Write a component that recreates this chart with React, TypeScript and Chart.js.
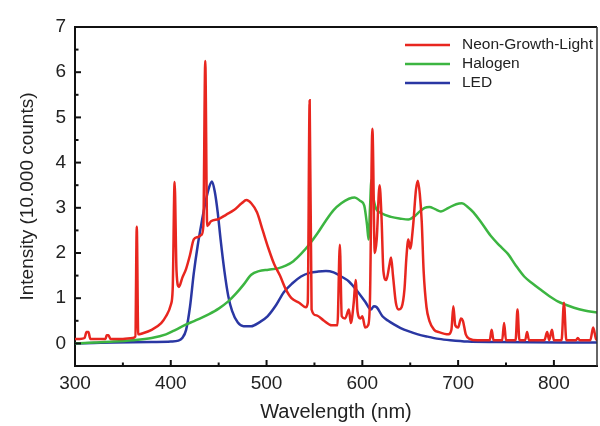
import React, { useEffect, useRef } from "react";
import { Chart, registerables } from "chart.js";

Chart.register(...registerables);

const seriesNames = ["Neon-Growth-Light", "Halogen", "LED"];
const seriesColors = ["#e8261f", "#3cb541", "#2a37a3"];

const xTickValues = [300, 400, 500, 600, 700, 800];
const xMinorValues = [350, 450, 550, 650, 750, 850];
const yTickValues = [0, 1, 2, 3, 4, 5, 6, 7];
const yMinorValues = [-0.5, 0.5, 1.5, 2.5, 3.5, 4.5, 5.5, 6.5];

const neonWl = [300, 305, 310, 312, 314, 316, 325, 332, 333, 335, 337, 350, 360, 363, 364.5, 366, 370, 380, 390, 395, 400, 402, 404, 406, 408.5, 412, 416, 420, 424, 428, 432, 434, 436, 438, 442, 450, 458, 466, 474, 479, 484, 490, 496, 502, 508, 514, 520, 526, 534, 541, 543, 545, 547, 552, 560, 568, 574, 576.5, 578.5, 582, 586, 588, 591, 593, 595, 598, 600, 603, 606, 608, 610.5, 613, 615, 618, 620, 622, 625, 628, 630, 632, 635, 638, 641, 644, 646, 648, 650, 653, 656, 658, 660, 662, 664, 667, 670, 675, 680, 690, 693, 695, 697, 700, 703, 705, 708, 712, 720, 733, 735, 737, 746, 748, 750, 760, 762, 764, 770, 772, 774, 790, 793, 795, 798, 800, 808, 810.5, 813, 823, 825, 827, 838, 841, 844, 846];
const neonVal = [0.1, 0.1, 0.12, 0.25, 0.25, 0.1, 0.1, 0.1, 0.18, 0.18, 0.1, 0.1, 0.12, 0.15, 2.58, 0.2, 0.22, 0.3, 0.45, 0.6, 0.85, 1.2, 3.57, 1.6, 1.25, 1.45, 1.65, 1.95, 2.3, 2.35, 2.4, 2.6, 6.25, 2.6, 2.7, 2.75, 2.85, 2.95, 3.1, 3.17, 3.1, 2.9, 2.5, 2.1, 1.75, 1.5, 1.2, 1.0, 0.9, 0.8, 0.9, 5.38, 0.75, 0.62, 0.5, 0.4, 0.4, 2.18, 0.6, 0.55, 0.75, 0.45, 0.9, 1.4, 0.7, 0.55, 0.6, 0.35, 0.4, 1.0, 4.75, 2.0, 2.3, 3.5, 2.8, 1.6, 1.4, 1.7, 1.9, 1.5, 0.9, 0.75, 0.8, 1.2, 1.9, 2.3, 2.1, 2.6, 3.4, 3.6, 3.3, 2.7, 1.6, 0.8, 0.5, 0.3, 0.25, 0.2, 0.3, 0.82, 0.4, 0.35, 0.55, 0.5, 0.2, 0.1, 0.07, 0.07, 0.3, 0.07, 0.07, 0.45, 0.07, 0.07, 0.75, 0.07, 0.07, 0.25, 0.07, 0.07, 0.25, 0.07, 0.3, 0.07, 0.07, 0.9, 0.07, 0.07, 0.12, 0.07, 0.07, 0.35, 0.1, 0.07];

const halogenWl = [300, 320, 340, 360, 380, 395, 405, 414, 425, 440, 450, 460, 468, 476, 484, 492, 502, 512, 520, 528, 536, 545, 553, 562, 570, 578, 586, 592, 598, 602, 605, 606.5, 608, 609.5, 611, 614, 620, 630, 640, 648, 655, 660, 665, 670, 676, 682, 690, 698, 704, 710, 716, 724, 734, 744, 752, 760, 769, 778, 786, 795, 804, 813, 821, 832, 846];
const halogenVal = [0.0, 0.02, 0.04, 0.07, 0.12, 0.2, 0.3, 0.4, 0.5, 0.65, 0.77, 0.93, 1.1, 1.3, 1.52, 1.6, 1.63, 1.66, 1.72, 1.82, 1.98, 2.2, 2.43, 2.72, 2.95, 3.1, 3.2, 3.23, 3.15, 3.05, 2.6, 2.3, 3.0, 3.62, 3.3, 3.0, 2.88, 2.8, 2.76, 2.74, 2.82, 2.92, 3.0, 3.02, 2.97, 2.92, 3.0, 3.08, 3.1, 3.02, 2.9, 2.68, 2.38, 2.15, 1.98, 1.73, 1.48, 1.32, 1.19, 1.05, 0.93, 0.85, 0.79, 0.73, 0.68];

const ledWl = [300, 320, 340, 380, 400, 408, 412, 416, 420, 424, 428, 432, 436, 440, 443, 446, 449, 452, 456, 460, 464, 470, 476, 484, 492, 501, 510, 518, 527, 536, 545, 554, 562, 570, 578, 586, 595, 603, 609, 612, 615, 621, 627, 633, 640, 648, 658, 668, 680, 692, 710, 740, 846];
const ledVal = [0.0, 0.01, 0.02, 0.03, 0.04, 0.06, 0.12, 0.3, 0.8, 1.55, 2.15, 2.65, 3.1, 3.45, 3.58, 3.35, 2.9, 2.3, 1.6, 1.05, 0.72, 0.46, 0.38, 0.38, 0.46, 0.6, 0.85, 1.13, 1.33, 1.48, 1.56, 1.59, 1.6, 1.57, 1.48, 1.37, 1.15, 0.92, 0.75, 0.82, 0.8, 0.6, 0.5, 0.42, 0.34, 0.27, 0.2, 0.15, 0.1, 0.07, 0.04, 0.03, 0.02];

const xTitle = "Wavelength (nm)";
const yTitle = "Intensity (10.000 counts)";

const FONT = "'Liberation Sans', Arial, sans-serif";

function toPoints(xs: number[], ys: number[]) {
  return xs.map((x, i) => ({ x, y: ys[i] }));
}

const framePlugin = {
  id: "frameTicks",
  afterDraw(chart: any) {
    const { ctx, chartArea } = chart;
    const xs = chart.scales.x;
    const ys = chart.scales.y;
    ctx.save();
    ctx.strokeStyle = "#111";
    ctx.lineWidth = 2;
    ctx.beginPath();
    ctx.moveTo(chartArea.left, chartArea.top);
    ctx.lineTo(chartArea.right, chartArea.top);
    ctx.stroke();
    ctx.lineWidth = 1.5;
    ctx.strokeStyle = "#333";
    ctx.beginPath();
    ctx.moveTo(chartArea.right, chartArea.top);
    ctx.lineTo(chartArea.right, chartArea.bottom);
    ctx.stroke();
    ctx.strokeStyle = "#111";
    ctx.lineWidth = 2;
    const drawX = (vals: number[], len: number) => {
      vals.forEach((v) => {
        const px = xs.getPixelForValue(v);
        if (px <= chartArea.left + 1 || px >= chartArea.right - 1) return;
        ctx.beginPath();
        ctx.moveTo(px, chartArea.bottom);
        ctx.lineTo(px, chartArea.bottom - len);
        ctx.stroke();
      });
    };
    const drawY = (vals: number[], len: number) => {
      vals.forEach((v) => {
        const py = ys.getPixelForValue(v);
        if (py <= chartArea.top + 1 || py >= chartArea.bottom - 1) return;
        ctx.beginPath();
        ctx.moveTo(chartArea.left, py);
        ctx.lineTo(chartArea.left + len, py);
        ctx.stroke();
      });
    };
    drawX(xTickValues, 6);
    drawX(xMinorValues, 3.5);
    drawY(yTickValues, 6);
    drawY(yMinorValues, 3.5);

    // legend
    const lx0 = 405;
    const lx1 = 450;
    const ly0 = 45;
    const dy = 19;
    ctx.font = `15.5px ${FONT}`;
    ctx.textBaseline = "middle";
    ctx.textAlign = "left";
    seriesNames.forEach((name, i) => {
      const y = ly0 + i * dy;
      ctx.strokeStyle = seriesColors[i];
      ctx.lineWidth = 2.5;
      ctx.beginPath();
      ctx.moveTo(lx0, y);
      ctx.lineTo(lx1, y);
      ctx.stroke();
      ctx.fillStyle = "#222";
      ctx.fillText(name, 462, y);
    });
    ctx.restore();
  },
};

export default function App() {
  const ref = useRef<HTMLCanvasElement | null>(null);
  useEffect(() => {
    if (!ref.current) return;
    const allData = [
      toPoints(neonWl, neonVal),
      toPoints(halogenWl, halogenVal),
      toPoints(ledWl, ledVal),
    ];
    const chart = new Chart(ref.current, {
      type: "line",
      data: {
        datasets: [2, 1, 0].map((i) => ({
          label: seriesNames[i],
          data: allData[i],
          borderColor: seriesColors[i],
          borderWidth: 2.5,
          pointRadius: 0,
          fill: false,
          cubicInterpolationMode: "monotone" as const,
          order: i,
        })),
      },
      options: {
        animation: false,
        responsive: false,
        layout: { padding: { top: 27, right: 3, left: 0, bottom: 0 } },
        plugins: {
          legend: { display: false },
          tooltip: { enabled: false },
          title: { display: false },
        },
        scales: {
          x: {
            type: "linear",
            min: 300,
            max: 845,
            afterFit: (s: any) => {
              s.height = 60;
            },
            afterBuildTicks: (s: any) => {
              s.ticks = xTickValues.map((v) => ({ value: v }));
            },
            grid: { display: false, drawTicks: false },
            border: { display: true, color: "#111", width: 2 },
            ticks: {
              padding: 6,
              color: "#222",
              font: { family: FONT, size: 19 },
              maxRotation: 0,
              autoSkip: false,
            },
            title: {
              display: true,
              text: xTitle,
              color: "#222",
              font: { family: FONT, size: 20 },
              padding: { top: 0, bottom: 2 },
            },
          },
          y: {
            type: "linear",
            min: -0.5,
            max: 7,
            afterFit: (s: any) => {
              s.width = 75;
            },
            afterBuildTicks: (s: any) => {
              s.ticks = yTickValues.map((v) => ({ value: v }));
            },
            grid: { display: false, drawTicks: false },
            border: { display: true, color: "#111", width: 2 },
            ticks: {
              padding: 9,
              color: "#222",
              font: { family: FONT, size: 19 },
              autoSkip: false,
            },
            title: {
              display: true,
              text: yTitle,
              color: "#222",
              font: { family: FONT, size: 19 },
              padding: { top: 16, bottom: 0 },
            },
          },
        },
      },
      plugins: [framePlugin],
    });
    return () => chart.destroy();
  }, []);
  return (
    <div style={{ position: "fixed", left: 0, top: 0, width: 600, height: 426, background: "#fff" }}>
      <canvas ref={ref} width={600} height={426} />
    </div>
  );
}
